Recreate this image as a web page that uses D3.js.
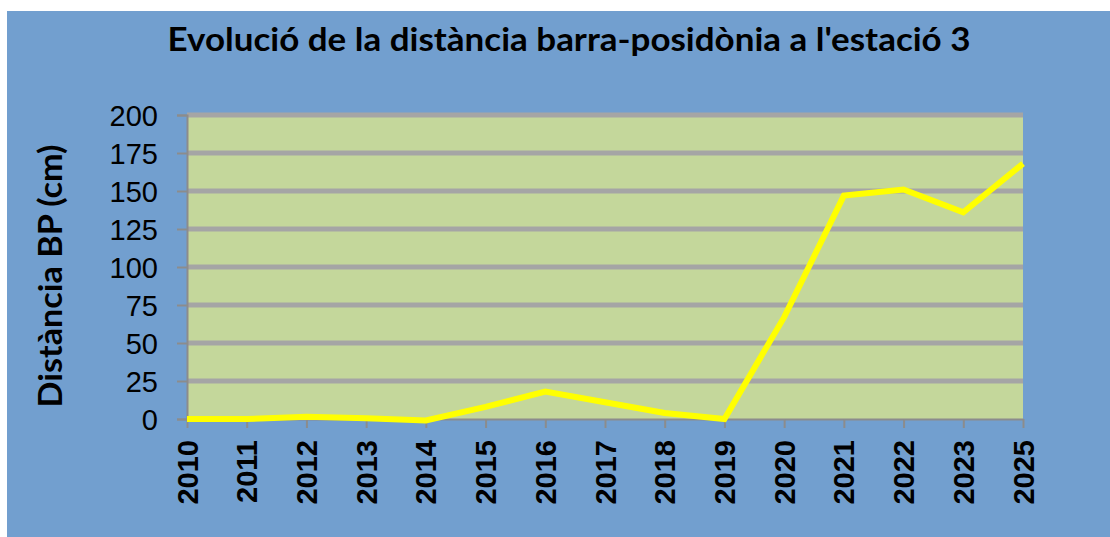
<!DOCTYPE html>
<html>
<head>
<meta charset="utf-8">
<script src="https://cdn.jsdelivr.net/npm/d3@7"></script>
<style>
  body { margin: 0; background: #ffffff; }
  svg { display: block; }
</style>
</head>
<body>
<svg id="chart" width="1110" height="537"></svg>
<script>
// data
const years = ['2010', '2011', '2012', '2013', '2014', '2015', '2016', '2017',
               '2018', '2019', '2020', '2021', '2022', '2023', '2025'];
const distances = [0, 0, 1.5, 0.5, -1, 8, 18, 11, 4, 0, 67, 147, 151, 136, 168];
const yTicks = [0, 25, 50, 75, 100, 125, 150, 175, 200];

const titleText = "Evolució de la distància barra-posidònia a l'estació 3";
const yTitle = 'Distància BP (cm)';

let svg = d3.select('#chart');

let plotLeft = 187, plotRight = 1023, plotTop = 115, plotBottom = 419;

// background
svg.append('rect')
    .attr('x', 7).attr('y', 11)
    .attr('width', 1103).attr('height', 526)
    .attr('fill', '#729fcf');

let xscale = d3.scalePoint()
    .domain(years)
    .range([plotLeft, plotRight]);

let yscale = d3.scaleLinear()
    .domain([0, 200])
    .range([plotBottom, plotTop]);

// plot area
svg.append('rect')
    .attr('x', plotLeft).attr('y', plotTop)
    .attr('width', plotRight - plotLeft).attr('height', plotBottom - plotTop)
    .attr('fill', '#c4d79b');

// gridlines
svg.append('g')
    .selectAll('line')
    .data(yTicks.filter(d => d > 0))
    .join('line')
    .attr('x1', plotLeft).attr('x2', plotRight)
    .attr('y1', d => yscale(d)).attr('y2', d => yscale(d))
    .attr('stroke', '#a5a5a5')
    .attr('stroke-width', 5);

// y axis
let yaxis = d3.axisLeft(yscale)
    .tickValues(yTicks)
    .tickSize(10)
    .tickPadding(19)
    .tickFormat(d => d);

let yg = svg.append('g')
    .attr('transform', `translate(${plotLeft}, 0)`)
    .call(yaxis);
yg.select('.domain').attr('stroke', '#8c8c8c').attr('stroke-width', 2);
yg.selectAll('.tick line').attr('stroke', '#8c8c8c').attr('stroke-width', 2);
yg.selectAll('text')
    .attr('font-family', 'Liberation Sans, Arial, sans-serif')
    .attr('font-size', 29)
    .attr('fill', '#000')
    .attr('dy', '0.36em');

// x axis
let xaxis = d3.axisBottom(xscale)
    .tickSize(9)
    .tickSizeOuter(0)
    .tickFormat(d => d);

let xg = svg.append('g')
    .attr('transform', `translate(0, ${plotBottom})`)
    .call(xaxis);
xg.select('.domain').attr('stroke', '#8c8c8c').attr('stroke-width', 2);
xg.selectAll('.tick line').attr('stroke', '#8c8c8c').attr('stroke-width', 2);
xg.selectAll('text')
    .attr('font-family', 'Liberation Sans, Arial, sans-serif')
    .attr('font-size', 29)
    .attr('font-weight', 'bold')
    .attr('fill', '#000')
    .attr('text-anchor', 'end')
    .attr('dy', null)
    .attr('y', 0)
    .attr('x', 0)
    .attr('transform', 'translate(0, 21) rotate(-90)')
    .attr('dominant-baseline', 'central');

// line
let line = d3.line()
    .x((d, i) => xscale(years[i]))
    .y(d => yscale(d));

svg.append('path')
    .datum(distances)
    .attr('d', line)
    .attr('fill', 'none')
    .attr('stroke', '#ffff00')
    .attr('stroke-width', 6)
    .attr('stroke-linejoin', 'miter')
    .attr('stroke-linecap', 'butt');

// titles
svg.append('text')
    .attr('x', 569).attr('y', 51)
    .attr('text-anchor', 'middle')
    .attr('font-family', 'Lato, sans-serif')
    .attr('font-weight', 'bold')
    .attr('font-size', 33)
    .attr('textLength', 803)
    .attr('lengthAdjust', 'spacingAndGlyphs')
    .attr('fill', '#000')
    .text(titleText);

svg.append('text')
    .attr('transform', 'translate(62, 276) rotate(-90)')
    .attr('text-anchor', 'middle')
    .attr('font-family', 'Lato, sans-serif')
    .attr('font-weight', 'bold')
    .attr('font-size', 33)
    .attr('textLength', 263)
    .attr('lengthAdjust', 'spacingAndGlyphs')
    .attr('fill', '#000')
    .text(yTitle);
</script>
</body>
</html>
